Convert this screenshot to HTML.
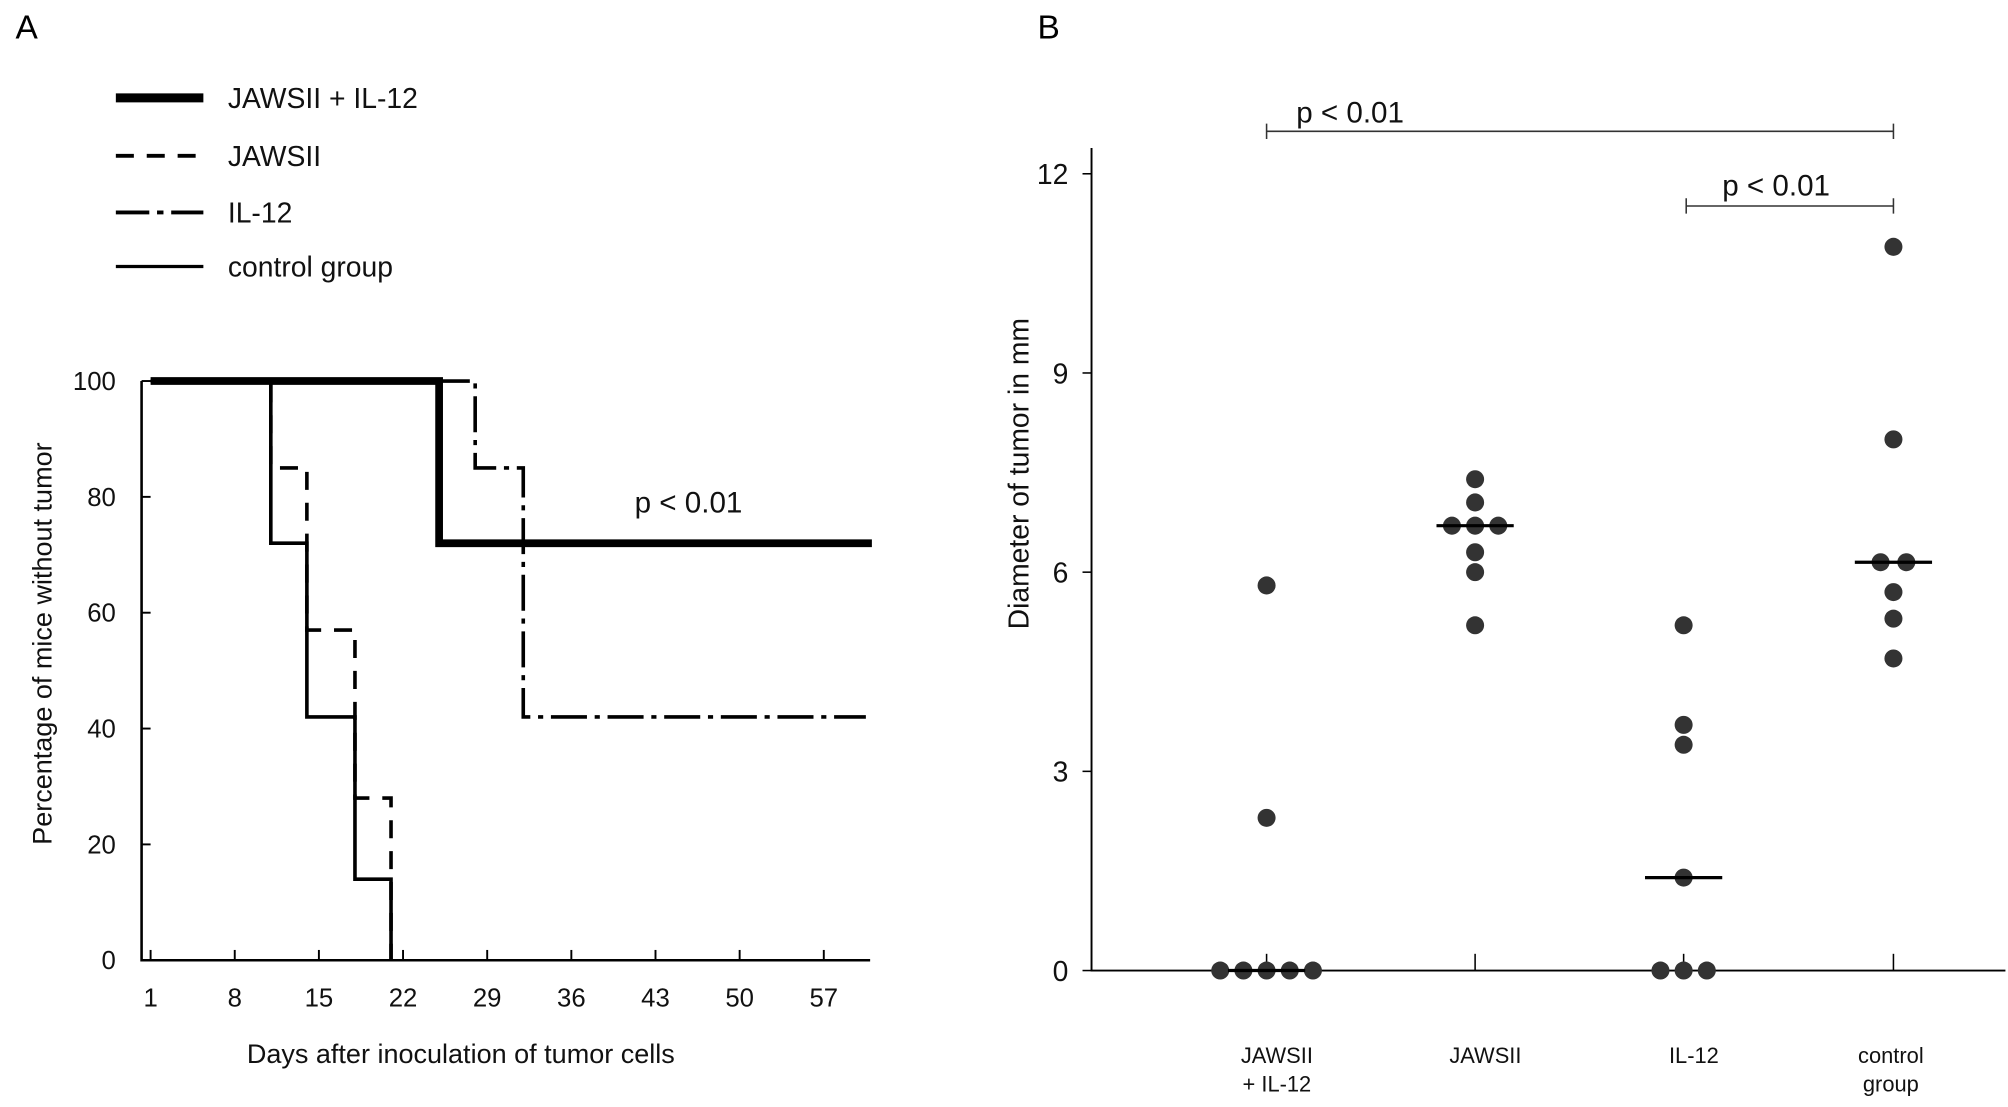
<!DOCTYPE html>
<html><head><meta charset="utf-8"><style>
html,body{margin:0;padding:0;background:#fff;}
svg{display:block;font-family:"Liberation Sans",Arial,sans-serif;}
</style></head><body>
<svg id="fig" width="2008" height="1107" viewBox="0 0 1560 860" xmlns="http://www.w3.org/2000/svg">
<g id="panelA"></g>
<g id="panelB"></g>
</svg>
<script>
// ---- Panel A data ----
const dayTicks = [1, 8, 15, 22, 29, 36, 43, 50, 57];
const pctTicks = [0, 20, 40, 60, 80, 100];
const seriesNames = ["JAWSII + IL-12", "JAWSII", "IL-12", "control group"];
const comboDays = [1, 25, 61];
const comboPct = [100, 72, 72];
const jawsDays = [1, 11, 14, 18, 21];
const jawsPct = [100, 85, 57, 28, 0];
const il12Days = [1, 28, 32, 60.5];
const il12Pct = [100, 85, 42, 42];
const ctrlDays = [1, 11, 14, 18, 21];
const ctrlPct = [100, 72, 42, 14, 0];
// ---- Panel B data ----
const groups = ["JAWSII\n+ IL-12", "JAWSII", "IL-12", "control\ngroup"];
const diamTicks = [0, 3, 6, 9, 12];
const comboDiam = [5.8, 2.3, 0, 0, 0, 0, 0];
const jawsDiam = [7.4, 7.05, 6.7, 6.7, 6.7, 6.3, 6.0, 5.2];
const il12Diam = [5.2, 3.7, 3.4, 1.4, 0, 0, 0];
const ctrlDiam = [10.9, 8.0, 6.15, 6.15, 5.7, 5.3, 4.7];
const medians = [0, 6.7, 1.4, 6.15];

const NS = "http://www.w3.org/2000/svg";
function mk(tag, attrs, parent, text) {
  const e = document.createElementNS(NS, tag);
  for (const k in attrs) e.setAttribute(k, attrs[k]);
  if (text !== undefined) e.textContent = text;
  parent.appendChild(e);
  return e;
}
const A = document.getElementById('panelA');
const B = document.getElementById('panelB');

const ax = d => 117 + (d - 1) * (640 - 117) / 56;
const ay = p => 746 - p * (746 - 296) / 100;

let t = mk('text', {x: 12, y: 30, 'font-size': 26}, A, 'A');



const legStyles = [
  {w: 7, dash: ''}, {w: 3, dash: '14 10'}, {w: 3, dash: '26 6 5 6 14 0'}, {w: 2.5, dash: ''}
];
const legY = [76, 121, 165, 207];
seriesNames.forEach((n, i) => {
  const g = mk('g', {}, A);
  
  
  mk('line', {x1: 90, x2: 158, y1: legY[i], y2: legY[i], stroke: '#000', 'stroke-width': legStyles[i].w, 'stroke-dasharray': legStyles[i].dash}, g);
  mk('text', {x: 177, y: legY[i] + 8, 'font-size': 22, fill: '#111'}, g, n);
});

let axA = mk('path', {d: `M110 296 V746 H676`, stroke: '#000', 'stroke-width': 2, fill: 'none'}, A);


pctTicks.forEach(p => {
  mk('line', {x1: 110, x2: 117, y1: ay(p), y2: ay(p), stroke: '#000', 'stroke-width': 1.5}, A);
  const l = mk('text', {x: 90, y: ay(p) + 7, 'font-size': 20, 'text-anchor': 'end', fill: '#111'}, A, p);
  
  
});
dayTicks.forEach(d => {
  mk('line', {x1: ax(d), x2: ax(d), y1: 746, y2: 738, stroke: '#000', 'stroke-width': 1.5}, A);
  const l = mk('text', {x: ax(d), y: 782, 'font-size': 20, 'text-anchor': 'middle', fill: '#111'}, A, d);
  
  
});
t = mk('text', {x: 358, y: 826, 'font-size': 21, 'text-anchor': 'middle', fill: '#111'}, A, 'Days after inoculation of tumor cells');


t = mk('text', {x: 0, y: 0, 'font-size': 21, 'text-anchor': 'middle', fill: '#111', transform: 'translate(40,500) rotate(-90)'}, A, 'Percentage of mice without tumor');



function stepPath(days, pcts) {
  let d = `M${ax(days[0])} ${ay(pcts[0])}`;
  for (let i = 1; i < days.length; i++) {
    d += ` H${ax(days[i])} V${ay(pcts[i])}`;
  }
  return d;
}
const curves = [
  {n: 'curve-control', d: ctrlDays, p: ctrlPct, w: 2.8, dash: ''},
  {n: 'curve-jawsii', d: jawsDays, p: jawsPct, w: 2.8, dash: '14 10'},
  {n: 'curve-il12', d: il12Days, p: il12Pct, w: 2.8, dash: '28 6 4 6'},
  {n: 'curve-jawsii-il12', d: comboDays, p: comboPct, w: 6, dash: ''}
];
curves.forEach(c => {
  let pd = stepPath(c.d, c.p);
  if (c.n === 'curve-jawsii-il12') pd = `M${ax(c.d[0])} ${ay(c.p[0])} H${ax(c.d[1])} V${ay(c.p[1])} H${ax(c.d[2])}`;
  if (c.n === 'curve-il12') pd = `M${ax(c.d[0])} ${ay(c.p[0])} H${ax(c.d[1])} V${ay(c.p[1])} H${ax(c.d[2])} V${ay(c.p[2])} H${ax(c.d[3])}`;
  const e = mk('path', {d: pd, stroke: '#000', 'stroke-width': c.w, fill: 'none', 'stroke-dasharray': c.dash}, A);
  
  
});
t = mk('text', {x: 493, y: 398, 'font-size': 23, fill: '#111'}, A, 'p < 0.01');



// ---- Panel B ----
const gx = [984, 1146, 1308, 1471];
const by = v => 754 - v * (754 - 135) / 12;
t = mk('text', {x: 806, y: 30, 'font-size': 26}, B, 'B');


let axB = mk('path', {d: `M848 115 V754 H1558`, stroke: '#000', 'stroke-width': 1.5, fill: 'none'}, B);


diamTicks.forEach(v => {
  mk('line', {x1: 841, x2: 848, y1: by(v), y2: by(v), stroke: '#000', 'stroke-width': 1.2}, B);
  const l = mk('text', {x: 830, y: by(v) + 8, 'font-size': 22, 'text-anchor': 'end', fill: '#111'}, B, v);
  
  
});
groups.forEach((g, i) => {
  mk('line', {x1: gx[i], x2: gx[i], y1: 754, y2: 741, stroke: '#000', 'stroke-width': 1.2}, B);
  const lines = g.split('\n');
  lines.forEach((s, j) => {
    const l = mk('text', {x: gx[i] + 8 - (i === 3 ? 10 : 0), y: 826 + j * 22, 'font-size': 17, 'text-anchor': 'middle', fill: '#111'}, B, s);
    
    
  });
});
t = mk('text', {x: 0, y: 0, 'font-size': 22, 'text-anchor': 'middle', fill: '#111', transform: 'translate(799,368) rotate(-90)'}, B, 'Diameter of tumor in mm');



function drawGroup(vals, gi) {
  const counts = {};
  vals.forEach(v => counts[v] = (counts[v] || 0) + 1);
  const seen = {};
  vals.forEach(v => {
    const n = counts[v];
    const k = seen[v] || 0; seen[v] = k + 1;
    const step = n === 2 ? 20 : 18;
    const cx = gx[gi] + (k - (n - 1) / 2) * step;
    const c = mk('circle', {cx: cx, cy: by(v), r: 7, fill: '#333'}, B);
    
    
  });
}
drawGroup(comboDiam, 0);
drawGroup(jawsDiam, 1);
drawGroup(il12Diam, 2);
drawGroup(ctrlDiam, 3);
medians.forEach((m, i) => {
  const l = mk('line', {x1: gx[i] - 30, x2: gx[i] + 30, y1: by(m), y2: by(m), stroke: '#000', 'stroke-width': 2.5}, B);
  
  
});
function bracket(x1, x2, y, tx, ty, name) {
  const g = mk('g', {}, B);
  
  
  mk('path', {d: `M${x1} ${y - 6} V${y + 6} M${x1} ${y} H${x2} M${x2} ${y - 6} V${y + 6}`, stroke: '#333', 'stroke-width': 1.2, fill: 'none'}, g);
  mk('text', {x: tx, y: ty, 'font-size': 23, fill: '#111'}, g, 'p < 0.01');
}
bracket(984, 1471, 102, 1007, 95, 'bracket-combo-vs-control');
bracket(1310, 1471, 160, 1338, 152, 'bracket-il12-vs-control');
</script>
</body></html>
